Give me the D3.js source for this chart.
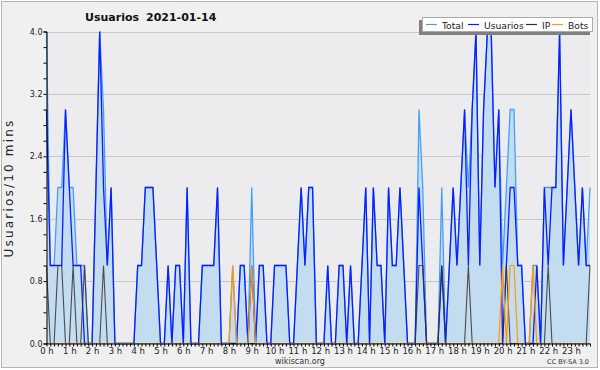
<!DOCTYPE html>
<html>
<head>
<meta charset="utf-8">
<script src="https://cdn.jsdelivr.net/npm/d3@7"></script>
<style>
  body { margin: 0; background: #fff; }
  svg text { font-family: "DejaVu Sans", sans-serif; }
</style>
</head>
<body>
<script>
// 10 minute steps over the day, 6 per hour, 144 in all
var hours = d3.range(0, 24).map(function(h) { return h + " h"; });
var yTicks = [0.0, 0.8, 1.6, 2.4, 3.2, 4.0];

var usuarios = [
  3,1,1,1,1,3, 2,1,1,1,0,0, 0,2,4,2,1,2, 0,0,0,0,0,0,
  1,1,2,2,2,1, 0,0,1,0,1,1, 0,2,0,0,0,1, 1,1,1,2,0,0,
  0,0,0,1,1,0, 1,0,1,1,0,0, 1,1,1,1,0,0, 1,2,1,2,2,0,
  0,0,1,0,0,1, 1,0,1,0,0,1, 2,0,2,1,1,0, 2,1,1,2,1,0,
  0,0,2,1,0,0, 0,0,1,0,1,2, 1,2,3,1,3,4, 1,3,4,4,2,3,
  0,1,2,2,1,1, 0,0,0,1,0,2, 1,2,2,4,1,2, 3,2,1,2,1,1
];
var ip = [
  1,0,0,1,1,0, 0,1,0,0,1,0, 0,0,0,1,0,0, 0,0,0,0,0,0,
  0,0,0,0,0,0, 0,0,0,0,0,0, 0,0,0,0,0,0, 0,0,0,0,0,0,
  0,0,0,0,0,0, 0,0,0,0,0,0, 0,0,0,0,0,0, 0,0,0,0,0,0,
  0,0,0,0,0,0, 0,0,0,0,0,0, 0,0,0,0,0,0, 0,0,0,0,0,0,
  0,0,1,1,0,0, 0,0,1,0,0,0, 0,0,0,1,0,0, 0,0,0,0,0,0,
  0,1,0,0,0,0, 0,0,0,0,0,0, 1,0,0,0,0,0, 0,0,0,0,0,1
];
var bots = [
  0,0,0,0,0,0, 0,0,0,0,0,0, 0,0,0,0,0,0, 0,0,0,0,0,0,
  0,0,0,0,0,0, 0,0,0,0,0,0, 0,0,0,0,0,0, 0,0,0,0,0,0,
  0,1,0,0,0,0, 1,0,0,0,0,0, 0,0,0,0,0,0, 0,0,0,0,0,0,
  0,0,0,0,0,0, 0,0,0,0,0,0, 0,0,0,0,0,0, 0,0,0,0,0,0,
  0,0,0,0,0,0, 0,0,0,0,0,0, 0,0,0,0,0,0, 0,0,0,0,0,0,
  1,0,1,1,0,0, 0,0,1,0,0,0, 0,0,0,0,0,0, 0,0,0,0,0,0
];
var total = [
  4,1,1,2,2,3, 2,2,1,1,1,0, 0,2,4,3,1,2, 0,0,0,0,0,0,
  1,1,2,2,2,1, 0,0,1,0,1,1, 0,2,0,0,0,1, 1,1,1,2,0,0,
  0,1,0,1,1,0, 2,0,1,1,0,0, 1,1,1,1,0,0, 1,2,1,2,2,0,
  0,0,1,0,0,1, 1,0,1,0,0,1, 2,0,2,1,1,0, 2,1,1,2,1,0,
  0,0,3,2,0,0, 0,0,2,0,1,2, 1,2,3,2,3,4, 1,3,4,4,2,3,
  1,2,3,3,1,1, 0,0,1,1,0,2, 2,2,2,4,1,2, 3,2,1,2,1,2
];

var width = 600, height = 370;
// plot box (named so they don't clash with window.top)
var plotLeft = 46.5, plotRight = 590, plotTop = 31.5, plotBottom = 343.5;

var svg = d3.select("body").append("svg")
    .attr("width", width)
    .attr("height", height);

// page background and frame
svg.append("rect")
    .attr("x", 1.5).attr("y", 1.5)
    .attr("width", 596).attr("height", 366)
    .attr("fill", "#f0f0f0")
    .attr("stroke", "#b4b4b4");

// plot area
svg.append("rect")
    .attr("x", plotLeft).attr("y", plotTop)
    .attr("width", plotRight - plotLeft).attr("height", plotBottom - plotTop)
    .attr("fill", "#ececee");

var x = d3.scaleLinear().domain([0, 143]).range([plotLeft, plotRight]);
var y = d3.scaleLinear().domain([0, 4]).range([plotBottom, plotTop]);

// grid lines
svg.selectAll(".grid")
    .data(yTicks.slice(1))
    .enter()
    .append("line")
    .attr("x1", plotLeft).attr("x2", plotRight)
    .attr("y1", function(d) { return Math.round(y(d)) + 0.5; })
    .attr("y2", function(d) { return Math.round(y(d)) + 0.5; })
    .attr("stroke", "#c8c8c8")
    .attr("stroke-width", 1);

// series
var steps = d3.range(total.length);

var area = d3.area()
    .x(function(i) { return x(i); })
    .y0(y(0))
    .y1(function(i) { return y(total[i]); });

svg.append("path")
    .attr("d", area(steps))
    .attr("fill", "#c4dcf0");

function drawLine(values, color, w, op) {
  var line = d3.line()
      .x(function(i) { return x(i); })
      .y(function(i) { return y(values[i]); });
  svg.append("path")
      .attr("d", line(steps))
      .attr("fill", "none")
      .attr("stroke", color)
      .attr("stroke-width", w)
      .attr("stroke-opacity", op)
      .attr("stroke-linejoin", "miter");
}
drawLine(total, "#45a0f5", 1.3, 1);
drawLine(usuarios, "#0a1eff", 1.3, 1);
drawLine(ip, "#333333", 1.1, 0.85);
drawLine(bots, "#ff9a00", 1.2, 1);

// y axis, minor ticks every 0.2
var yAxis = d3.axisLeft(y)
    .tickValues(d3.range(0, 21).map(function(k) { return k * 0.2; }))
    .tickSize(3)
    .tickFormat(function(d) {
      var hit = yTicks.filter(function(t) { return Math.abs(t - d) < 1e-6; });
      return hit.length ? d3.format(".1f")(d) : "";
    });
var gy = svg.append("g")
    .attr("transform", "translate(" + plotLeft + ",0)")
    .call(yAxis);
gy.select(".domain").attr("stroke", "#000");
gy.selectAll(".tick line").attr("stroke", "#000");
gy.selectAll(".tick text")
    .attr("font-size", "8px")
    .attr("font-family", "DejaVu Sans")
    .attr("fill", "#222")
    .attr("x", -4);

// x axis, a tick per 10 minutes, label per hour
var xAxis = d3.axisBottom(x)
    .tickValues(d3.range(0, 144))
    .tickSize(3)
    .tickFormat(function(d) { return d % 6 === 0 ? hours[d / 6] : ""; });
var gx = svg.append("g")
    .attr("transform", "translate(0," + plotBottom + ")")
    .call(xAxis);
gx.select(".domain").attr("d", "M" + plotLeft + ",0.5H" + plotRight).attr("stroke", "#000");
gx.selectAll(".tick line").attr("stroke", "#000");
gx.selectAll(".tick text")
    .attr("font-size", "8.5px")
    .attr("font-family", "DejaVu Sans")
    .attr("fill", "#222")
    .attr("y", 4);

// title
svg.append("text")
    .attr("x", 85).attr("y", 21)
    .attr("font-size", "11px")
    .attr("font-weight", "bold")
    .attr("fill", "#111")
    .text("Usuarios");
svg.append("text")
    .attr("x", 146).attr("y", 21)
    .attr("font-size", "11px")
    .attr("font-weight", "bold")
    .attr("fill", "#111")
    .text("2021-01-14");

// y label
svg.append("text")
    .attr("transform", "translate(13,188) rotate(-90)")
    .attr("text-anchor", "middle")
    .attr("font-family", "DejaVu Sans Mono")
    .attr("font-size", "12px")
    .attr("letter-spacing", "2.2px")
    .attr("fill", "#222")
    .text("Usuarios/10 mins");

// footer
svg.append("text")
    .attr("x", 300).attr("y", 364)
    .attr("text-anchor", "middle")
    .attr("font-size", "8px")
    .attr("fill", "#333")
    .text("wikiscan.org");
svg.append("text")
    .attr("x", 589).attr("y", 364)
    .attr("text-anchor", "end")
    .attr("font-size", "6.5px")
    .attr("fill", "#333")
    .text("CC BY-SA 3.0");

// legend
var legendNames = ["Total", "Usuarios", "IP", "Bots"];
var legendColors = ["#45a0f5", "#0a1eff", "#333333", "#ff9a00"];
var legendX = [426, 468, 526, 552];

var legend = svg.append("g");
legend.append("rect")
    .attr("x", 419).attr("y", 20)
    .attr("width", 171).attr("height", 15)
    .attr("fill", "#808080");
legend.append("rect")
    .attr("x", 422.5).attr("y", 17.5)
    .attr("width", 170).attr("height", 14)
    .attr("fill", "#fff")
    .attr("stroke", "#aaa");
legend.selectAll(".lg")
    .data(legendNames)
    .enter()
    .append("line")
    .attr("x1", function(d, i) { return legendX[i]; })
    .attr("x2", function(d, i) { return legendX[i] + 11; })
    .attr("y1", 24.5).attr("y2", 24.5)
    .attr("stroke", function(d, i) { return legendColors[i]; })
    .attr("stroke-width", 1.2);
legend.selectAll(".lt")
    .data(legendNames)
    .enter()
    .append("text")
    .attr("x", function(d, i) { return legendX[i] + 16; })
    .attr("y", 28.5)
    .attr("font-size", "9.2px")
    .attr("fill", "#222")
    .text(function(d) { return d; });
</script>
</body>
</html>
